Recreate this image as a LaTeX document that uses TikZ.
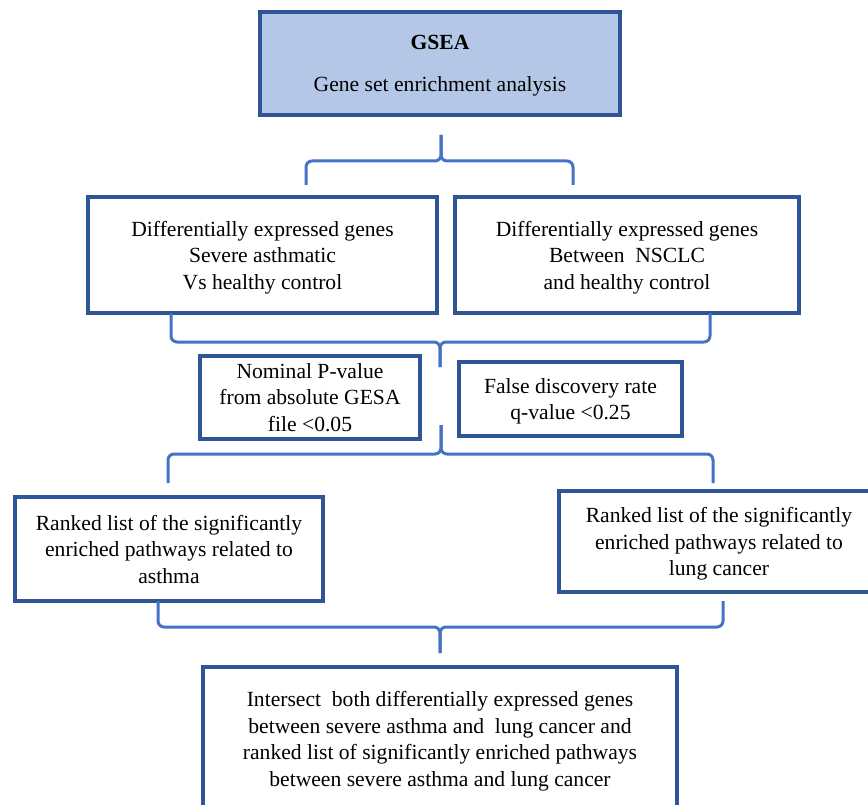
\documentclass[tikz,border=0pt]{standalone}
\usepackage{fontspec}
\setmainfont{Liberation Serif}
\definecolor{gseablue}{RGB}{47,85,151}
\definecolor{gsealight}{RGB}{180,199,231}
\definecolor{bracblue}{RGB}{68,114,196}
\usepackage{tikz}

\begin{document}
\begin{tikzpicture}[x=1pt, y=-1pt,
  font=\fontsize{21.6}{26.5}\selectfont,
  box/.style={rectangle, draw=gseablue, line width=3.2pt, fill=white,
              align=center, inner sep=0pt, text depth=-3pt},
  head/.style={box, fill=gsealight},
  brc/.style={draw=bracblue, line width=3pt, rounded corners=6pt}]
\useasboundingbox (0,0) rectangle (868,805);
\node[head, minimum width=360pt, minimum height=103pt] (gsea) at (440,63.5)
  {\textbf{GSEA}\\[15pt]Gene set enrichment analysis};
\node[box, minimum width=349pt, minimum height=116pt] (degA) at (262.5,255)
  {Differentially expressed genes\\Severe asthmatic\\Vs healthy control};
\node[box, minimum width=344pt, minimum height=116pt] (degL) at (627,255)
  {Differentially expressed genes\\Between\ \ NSCLC\\and healthy control};
\node[box, minimum width=220pt, minimum height=83pt, text depth=-6pt] (pval) at (310,397.5)
  {Nominal P-value\\from absolute GESA\\file <0.05};
\node[box, minimum width=223pt, minimum height=74pt] (fdr) at (570.5,399)
  {False discovery rate\\q-value <0.25};
\node[box, minimum width=308pt, minimum height=104pt, text depth=-6pt] (rankA) at (169,549)
  {Ranked list of the significantly\\enriched pathways related to\\asthma};
\node[box, minimum width=320pt, minimum height=101pt] (rankL) at (719,541.5)
  {Ranked list of the significantly\\enriched pathways related to\\lung cancer};
\node[box, minimum width=474pt, minimum height=144pt] (inter) at (440,739)
  {Intersect\ \ both differentially expressed genes\\between severe asthma and\ \ lung cancer and\\ranked list of significantly enriched pathways\\between severe asthma and lung cancer};
\coordinate (l1) at (306,185); \coordinate (r1) at (573,185);
\coordinate (m1) at (441,161); \coordinate (t1) at (441,135);
\coordinate (l2) at (171,313); \coordinate (r2) at (710,313);
\coordinate (m2) at (440,342); \coordinate (t2) at (440,367);
\coordinate (l3) at (168,483); \coordinate (r3) at (713,483);
\coordinate (m3) at (441,454); \coordinate (t3) at (441,425);
\coordinate (l4) at (158,601); \coordinate (r4) at (723,601);
\coordinate (m4) at (440,627); \coordinate (t4) at (440,653);
\foreach \i in {1,...,4} {
  \draw[brc] (l\i) -- (l\i|-m\i) -- (m\i) -- (t\i);
  \draw[brc] (t\i) -- (m\i) -- (r\i|-m\i) -- (r\i);
}
\end{tikzpicture}
\end{document}
